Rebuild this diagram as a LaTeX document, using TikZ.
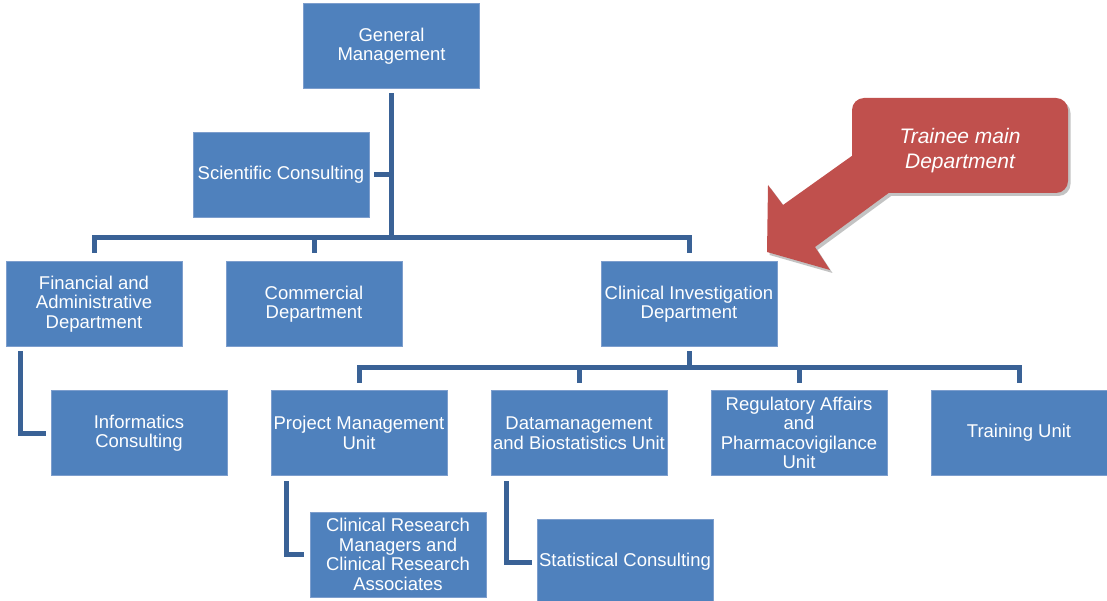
\documentclass[tikz,border=0pt]{standalone}
\usepackage{fontspec}
\setmainfont{Liberation Sans}
\usetikzlibrary{calc}
\definecolor{boxblue}{RGB}{79,129,189}
\definecolor{boxedge}{RGB}{125,158,205}
\definecolor{linkblue}{RGB}{58,98,150}
\definecolor{callred}{RGB}{192,80,77}
\definecolor{shadowgray}{RGB}{195,195,195}
\begin{document}
\begin{tikzpicture}[x=1pt,y=-1pt,
  unit/.style={rectangle, fill=boxblue, draw=boxedge, line width=0.8pt,
    minimum width=176pt, minimum height=85pt, inner sep=0pt, align=center,
    text=white, font=\fontsize{18.5}{19.5}\selectfont},
  link/.style={draw=linkblue, line width=5pt},
  calltext/.style={align=center, text=white, inner sep=0pt,
    font=\fontsize{21}{25}\selectfont\itshape}]
\useasboundingbox (0,0) rectangle (1107,601);

% callout (drawn first, behind)
\begin{scope}[shift={(2.5,3)}]
  \fill[shadowgray] (767,252) -- (768,185) -- (783,205) -- (870,143) -- (905,181) -- (815,247) -- (830,270) -- cycle;
  \fill[shadowgray, rounded corners=12pt] (852,98) rectangle (1068,193);
\end{scope}
\fill[callred] (767,252) -- (768,185) -- (783,205) -- (870,143) -- (905,181) -- (815,247) -- (830,270) -- cycle;
\fill[callred, rounded corners=12pt] (852,98) rectangle (1068,193);
\node[calltext] (call) at (960,150.5) {Trainee main\\Department};

% nodes
\node[unit] (gm)  at (391.5,46)  {General\\Management};
\node[unit] (sci) at (281,175)   {Scientific Consulting};
\node[unit] (fin) at (94,304)    {Financial and\\Administrative\\Department};
\node[unit] (com) at (314,304)   {Commercial\\Department};
\node[unit] (cli) at (689,304)   {Clinical Investigation\\Department};
\node[unit] (inf) at (139,433)   {Informatics\\Consulting};
\node[unit] (pm)  at (359,433)   {Project Management\\Unit};
\node[unit] (dm)  at (579,433)   {Datamanagement\\and Biostatistics Unit};
\node[unit] (reg) at (799,433)   {Regulatory Affairs\\and\\Pharmacovigilance\\Unit};
\node[unit] (tr)  at (1019,433)  {Training Unit};
\node[unit] (crm) at (398,554.5)   {Clinical Research\\Managers and\\Clinical Research\\Associates};
\node[unit] (stat) at (625,562)  {Statistical Consulting};

\coordinate (bus1) at (0,238);
\coordinate (bus2) at (0,367);

% connectors
\draw[link] ([yshift=-4.5pt]gm.south) -- (gm.south |- bus1);
\draw[link] ([xshift=5pt]sci.east) -- (sci.east -| gm.south);
\draw[link] ([yshift=8.5pt]fin.north) |- (bus1 -| cli.north) -- ([yshift=8.5pt]cli.north);
\draw[link] ([yshift=8.5pt]com.north) -- (com.north |- bus1);
\draw[link] ([xshift=15pt,yshift=-4.5pt]fin.south west) |- ([xshift=-5pt]inf.west);

\draw[link] ([yshift=-4.5pt]cli.south) -- (cli.south |- bus2);
\draw[link] ([yshift=7.5pt]pm.north) |- (bus2 -| tr.north) -- ([yshift=7.5pt]tr.north);
\draw[link] ([yshift=7.5pt]dm.north) -- (dm.north |- bus2);
\draw[link] ([yshift=7.5pt]reg.north) -- (reg.north |- bus2);
\draw[link] ([xshift=16pt,yshift=-5.5pt]pm.south west) |- ([xshift=-6pt]crm.west);
\draw[link] ([xshift=16pt,yshift=-5.5pt]dm.south west) |- ([xshift=-5pt]stat.west);
\end{tikzpicture}
\end{document}
